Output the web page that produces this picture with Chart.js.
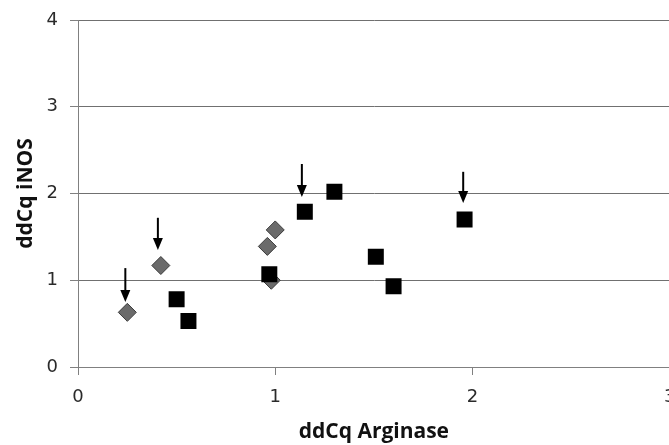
<!DOCTYPE html>
<html>
<head>
<meta charset="utf-8">
<script src="https://cdn.jsdelivr.net/npm/chart.js@4.4.0/dist/chart.umd.min.js"></script>
<style>
  html, body { margin: 0; padding: 0; background: #fff; overflow: hidden; }
  /* a little wider than the window: the right end of the x axis is cut off, like the original */
  #wrap { width: 681px; height: 445px; }
</style>
</head>
<body>
<div id="wrap"><canvas id="scatter"></canvas></div>
<script>
// values
const diamondX = [0.25, 0.42, 0.96, 1.0, 0.98];
const diamondY = [0.63, 1.17, 1.39, 1.58, 1.0];
const squareX = [0.50, 0.56, 0.97, 1.15, 1.30, 1.51, 1.60, 1.96];
const squareY = [0.78, 0.53, 1.07, 1.79, 2.02, 1.27, 0.93, 1.70];
// arrows: x position, top of shaft, tip
const arrowX = [0.24, 0.405, 1.135, 1.953];
const arrowTop = [1.14, 1.72, 2.34, 2.25];
const arrowTip = [0.75, 1.35, 1.96, 1.89];
const xTicks = [0, 1, 2, 3];
const yTicks = [0, 1, 2, 3, 4];

const toPoints = (xs, ys) => xs.map((x, i) => ({ x: x, y: ys[i] }));

const arrowPlugin = {
  id: 'arrows',
  afterDatasetsDraw(chart) {
    const ctx = chart.ctx;
    const xs = chart.scales.x, ys = chart.scales.y;
    ctx.save();
    ctx.strokeStyle = '#000';
    ctx.fillStyle = '#000';
    ctx.lineWidth = 2;
    arrowX.forEach((v, i) => {
      const px = xs.getPixelForValue(v);
      const top = ys.getPixelForValue(arrowTop[i]);
      const tip = ys.getPixelForValue(arrowTip[i]);
      ctx.beginPath();
      ctx.moveTo(px, top);
      ctx.lineTo(px, tip - 9);
      ctx.stroke();
      ctx.beginPath();
      ctx.moveTo(px - 5, tip - 12);
      ctx.lineTo(px + 5, tip - 12);
      ctx.lineTo(px, tip);
      ctx.closePath();
      ctx.fill();
    });
    ctx.restore();
  }
};

new Chart(document.getElementById('scatter'), {
  type: 'scatter',
  data: {
    datasets: [
      {
        label: 'squares',
        data: toPoints(squareX, squareY),
        pointStyle: 'rect',
        pointRadius: 11.3,
        pointHoverRadius: 11.3,
        backgroundColor: '#000',
        borderColor: '#000',
        borderWidth: 0,
        order: 0
      },
      {
        label: 'diamonds',
        data: toPoints(diamondX, diamondY),
        pointStyle: 'rectRot',
        pointRadius: 9,
        pointHoverRadius: 9,
        backgroundColor: '#6b6b6b',
        borderColor: '#3a3a3a',
        borderWidth: 1,
        order: 1
      }
    ]
  },
  options: {
    responsive: true,
    maintainAspectRatio: false,
    animation: false,
    layout: { padding: { top: 20, right: 0, bottom: 0, left: 0 } },
    plugins: { legend: { display: false }, tooltip: { enabled: false } },
    scales: {
      x: {
        type: 'linear',
        min: 0,
        max: 3,
        afterBuildTicks: s => { s.ticks = xTicks.map(v => ({ value: v })); },
        afterFit: s => { s.height = 78; s.paddingLeft = 0; s.paddingRight = 0; },
        border: { display: true, color: '#808080', width: 1 },
        grid: { drawOnChartArea: false, drawTicks: true, tickLength: 8, color: '#808080' },
        ticks: { color: '#2a2a2a', padding: 12, font: { family: 'DejaVu Sans', size: 18 } },
        title: {
          display: true,
          text: 'ddCq Arginase',
          color: '#111',
          font: { family: 'Open Sans', size: 21, weight: 'bold' },
          padding: { top: 0, bottom: 0 }
        }
      },
      y: {
        type: 'linear',
        min: 0,
        max: 4,
        afterBuildTicks: s => { s.ticks = yTicks.map(v => ({ value: v })); },
        afterFit: s => { s.width = 78; s.paddingTop = 0; s.paddingBottom = 0; },
        border: { display: true, color: '#808080', width: 1 },
        grid: {
          color: '#707070',
          lineWidth: 1,
          borderDash: [4, 2],
          tickLength: 8,
          tickBorderDash: [],
          tickColor: '#808080'
        },
        ticks: { color: '#2a2a2a', padding: 12, font: { family: 'DejaVu Sans', size: 18 } },
        title: {
          display: true,
          text: 'ddCq iNOS',
          color: '#111',
          font: { family: 'Open Sans', size: 21, weight: 'bold' },
          padding: { top: 13, bottom: 0 }
        }
      }
    }
  },
  plugins: [arrowPlugin]
});
</script>
</body>
</html>
